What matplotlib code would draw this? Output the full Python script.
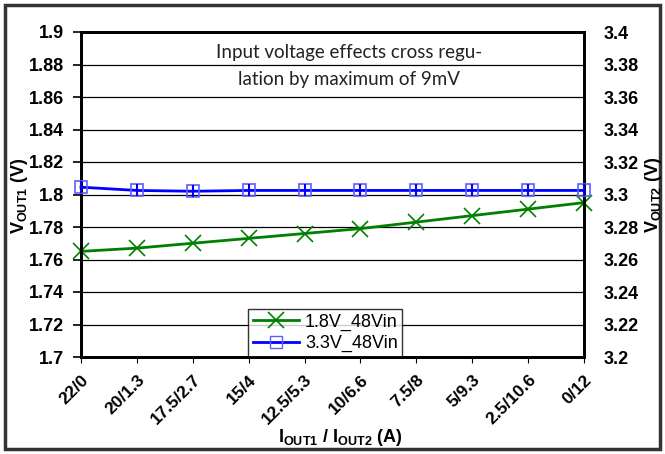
import matplotlib
matplotlib.use("Agg")
import matplotlib.pyplot as plt
from matplotlib.patches import Rectangle
from matplotlib.lines import Line2D

categories = ["22/0", "20/1.3", "17.5/2.7", "15/4", "12.5/5.3", "10/6.6",
              "7.5/8", "5/9.3", "2.5/10.6", "0/12"]
v_out1 = [1.765, 1.767, 1.770, 1.773, 1.776, 1.779, 1.783, 1.787, 1.791, 1.795]
v_out2 = [3.3045, 3.3025, 3.302, 3.3025, 3.3025, 3.3025, 3.3025, 3.3025, 3.3025, 3.3025]
left_ticks = [1.7, 1.72, 1.74, 1.76, 1.78, 1.8, 1.82, 1.84, 1.86, 1.88, 1.9]
right_ticks = [3.2, 3.22, 3.24, 3.26, 3.28, 3.3, 3.32, 3.34, 3.36, 3.38, 3.4]
note = "Input voltage effects cross regu-\nlation by maximum of 9mV"

plt.rcParams['font.family'] = ['Liberation Sans', 'DejaVu Sans']
plt.rcParams['mathtext.fontset'] = 'custom'
plt.rcParams['mathtext.rm'] = 'Liberation Sans:bold'
plt.rcParams['mathtext.bf'] = 'Liberation Sans:bold'
plt.rcParams['mathtext.it'] = 'Liberation Sans:bold'

fig = plt.figure(figsize=(6.65, 4.54), dpi=100)
W, H = 665, 454
ax = fig.add_axes([81 / W, 1 - 357 / H, (584 - 81) / W, (357 - 32) / H])

# outer frame
fig.patches.append(Rectangle((5 / W, 5 / H), (660 - 5) / W, (449 - 5) / H,
                             transform=fig.transFigure, fill=False,
                             edgecolor='#333333', linewidth=2.5))

x = list(range(len(categories)))
ax.set_xlim(0, len(categories) - 1)
ax.set_ylim(1.7, 1.9)
ax.set_yticks(left_ticks)
ax.set_yticklabels([f"{t:g}" for t in left_ticks], fontsize=13, fontweight='bold')
ax.grid(axis='y', color='black', linewidth=0.9)
ax.set_axisbelow(True)

ax2 = ax.twinx()
ax2.set_ylim(3.2, 3.4)
ax2.set_yticks(right_ticks)
ax2.set_yticklabels([f"{t:g}" for t in right_ticks], fontsize=13, fontweight='bold')
ax2.tick_params(axis='y', length=0, pad=14)

ax.plot(x, v_out1, color='#008000', linewidth=2, marker='x', markersize=11,
        markeredgewidth=1.2, zorder=5, clip_on=False)
ax2.plot(x, v_out2, color='#0000ff', linewidth=2, marker='s', markersize=9,
         markerfacecolor='none', markeredgecolor='#5c5cff', markeredgewidth=1.2,
         zorder=5, clip_on=False)
ax2.plot(x, v_out2, linestyle='none', marker='|', markersize=9, color='#0000ff',
         markeredgewidth=1.5, zorder=6, clip_on=False)

ax.set_xticks(x)
ax.set_xticklabels(categories, rotation=45, ha='right', rotation_mode='anchor',
                   fontsize=12.5, fontweight='bold')
ax.tick_params(axis='x', length=4, pad=7)
ax.tick_params(axis='y', length=6, width=1.2, pad=6)

for a in (ax, ax2):
    for s in a.spines.values():
        s.set_linewidth(2)
        s.set_color('black')

fig.text(19 / W, 1 - 196 / H, r"V$_{\mathrm{OUT1}}$ (V)", fontsize=13,
         fontweight='bold', rotation=90, ha='center', va='center')
fig.text(653 / W, 1 - 195 / H, r"V$_{\mathrm{OUT2}}$ (V)", fontsize=13,
         fontweight='bold', rotation=90, ha='center', va='center')
fig.text(340 / W, 1 - 437 / H, r"I$_{\mathrm{OUT1}}$ / I$_{\mathrm{OUT2}}$ (A)",
         fontsize=13, fontweight='bold', ha='center', va='center')

ax.text((349 - 81) / 503, (357 - 66) / 325, note, transform=ax.transAxes,
        ha='center', va='center', fontsize=13.5, family=['Lato', 'DejaVu Sans'],
        color='#222222', linespacing=1.75)

h1 = Line2D([], [], color='#008000', linewidth=2, marker='x', markersize=11,
            markeredgewidth=1.2)
h2 = Line2D([], [], color='#0000ff', linewidth=2, marker='s', markersize=9,
            markerfacecolor='none', markeredgecolor='#5c5cff')
leg = ax.legend([h1, h2], ['1.8V_48Vin', '3.3V_48Vin'], loc='lower left',
                bbox_to_anchor=((248 - 81) / 503, 0.0), fontsize=13,
                frameon=True, fancybox=False, edgecolor='black',
                borderpad=0.25, labelspacing=0.25, handlelength=2.6,
                handletextpad=0.3, borderaxespad=0.0)
leg.get_frame().set_linewidth(1)
leg.set_zorder(10)

fig.savefig("out.png", dpi=100)
